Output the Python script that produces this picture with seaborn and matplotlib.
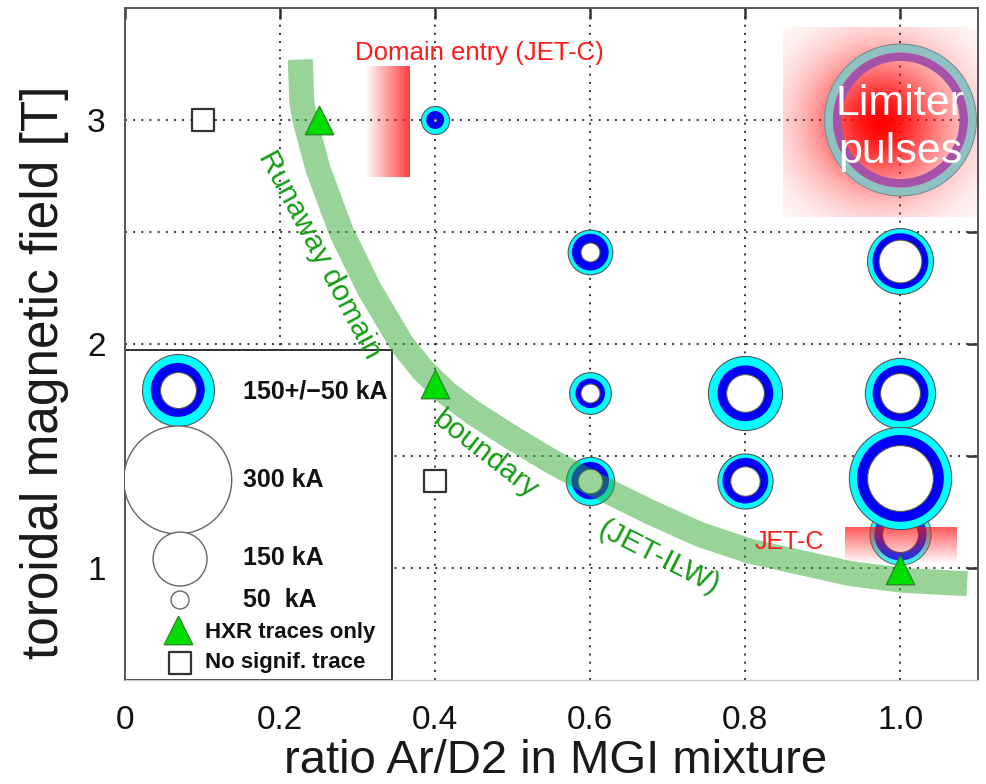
import numpy as np
import pandas as pd
import matplotlib
matplotlib.use("Agg")
import matplotlib.pyplot as plt
import seaborn as sns
from matplotlib.patches import Rectangle

# ---------------- data ----------------
# runaway rings: position, and current levels (kA) for inner / middle / outer radius
ring_x = [1.0, 0.4, 0.6, 1.0, 0.6, 0.8, 1.0, 0.6, 0.8, 1.0]
ring_y = [1.15, 3.0, 2.41, 2.37, 1.78, 1.78, 1.78, 1.39, 1.39, 1.40]
ring_low = [100, 8, 53, 119, 53, 105, 111, 68, 82, 183]
ring_mid = [145, 50, 102, 155, 82, 155, 155, 104, 127, 241]
ring_high = [170, 78, 124, 183, 116, 206, 195, 134, 153, 284]

# limiter pulses ring
limiter_x = [1.0]
limiter_y = [3.0]
limiter_low = [328]
limiter_mid = [375]
limiter_high = [422]

# HXR traces only (triangles) and no significant trace (squares)
hxr_x = [0.25, 0.4, 1.0]
hxr_y = [3.0, 1.82, 0.99]
none_x = [0.1, 0.4]
none_y = [3.0, 1.39]

# runaway domain boundary (JET-ILW) centre line
boundary_x = [0.226, 0.228, 0.232, 0.249, 0.279, 0.315, 0.357, 0.385, 0.415,
              0.45, 0.50, 0.548, 0.602, 0.677, 0.741, 0.806, 0.935, 1.003, 1.086]
boundary_y = [3.27, 3.08, 3.00, 2.78, 2.50, 2.245, 2.00, 1.88, 1.78,
              1.69, 1.58, 1.48, 1.378, 1.25, 1.15, 1.075, 0.975, 0.945, 0.93]

# legend reference values (kA)
legend_ring = [100, 150, 200]
legend_circles = [300, 150, 50]
legend_labels = ["150+/\u221250 kA", "300 kA", "150 kA", "50  kA",
                 "HXR traces only", "No signif. trace"]

x_ticks = [0, 0.2, 0.4, 0.6, 0.8, 1.0]
x_tick_labels = ["0", "0.2", "0.4", "0.6", "0.8", "1.0"]
y_ticks = [1.0, 1.5, 2.0, 2.5, 3.0]
y_tick_labels = ["1", "", "2", "", "3"]

# ---------------- style ----------------
sns.set_style("white")
plt.rcParams["font.family"] = ["Liberation Sans", "DejaVu Sans"]

DPI = 100
fig = plt.figure(figsize=(9.86, 7.84), dpi=DPI)
ax = fig.add_axes([125 / 986, 104 / 784, 853 / 986, 672 / 784])

PT_PER_KA = 0.2592  # marker diameter in points per kA


def s_of(vals):
    return (PT_PER_KA * np.asarray(vals, dtype=float)) ** 2


CYAN = "#00ffff"
BLUE = "#0000f5"
EDGE = "#555555"

# grid
ax.set_axisbelow(True)
ax.grid(True, linestyle=(0, (1, 3.2)), color="#333333", linewidth=1.4)

# ---------------- rings ----------------
for i in range(len(ring_x)):
    z = 3.0 + 0.01 * i + (0.1 if i > 0 else 0)
    a = 0.8 if i == 0 else 1.0
    d = pd.DataFrame({"x": [ring_x[i]], "y": [ring_y[i]]})
    sns.scatterplot(data=d, x="x", y="y", ax=ax, s=s_of([ring_high[i]]), alpha=a,
                    color=CYAN, edgecolor=EDGE, linewidth=0.8, zorder=z, legend=False)
    sns.scatterplot(data=d, x="x", y="y", ax=ax, s=s_of([ring_mid[i]]), alpha=a,
                    color=BLUE, edgecolor="none", linewidth=0, zorder=z + 0.001, legend=False)
    sns.scatterplot(data=d, x="x", y="y", ax=ax, s=s_of([ring_low[i]]),
                    color="white", edgecolor=EDGE, linewidth=0.8, zorder=z + 0.002, legend=False)

# JET-C red gradient (vertical, fading downward)
n = 100
img = np.zeros((n, 1, 4))
img[..., 0] = 1.0
img[..., 1] = 0.05
img[..., 2] = 0.05
img[:, 0, 3] = np.linspace(0.68, 0.0, n)
ax.imshow(img, extent=(0.929, 1.073, 1.02, 1.183), origin="upper",
          aspect="auto", zorder=3.05, interpolation="bilinear")

# Domain entry red gradient (horizontal)
img2 = np.zeros((1, n, 4))
img2[..., 0] = 1.0
img2[..., 1] = 0.05
img2[..., 2] = 0.05
img2[0, :, 3] = np.linspace(0.0, 0.8, n)
ax.imshow(img2, extent=(0.309, 0.366, 2.745, 3.24), origin="upper",
          aspect="auto", zorder=3.5, interpolation="bilinear")

# Limiter pulses: glow + ring
g = 200
u = np.linspace(-1, 1, g)
U, V = np.meshgrid(u, u)
R = np.sqrt(U ** 2 + V ** 2) * 97.0
glow = np.zeros((g, g, 4))
glow[..., 0] = 1.0
glow[..., 3] = np.exp(-(R / 70.0) ** 1.8)
ax.imshow(glow, extent=(0.848, 1.099, 2.567, 3.415), origin="upper",
          aspect="auto", zorder=3.5, interpolation="bilinear")

lim = pd.DataFrame({"x": limiter_x, "y": limiter_y})
teal_d = PT_PER_KA / 2 * (np.asarray(limiter_mid) + np.asarray(limiter_high))
teal_w = PT_PER_KA / 2 * (np.asarray(limiter_high) - np.asarray(limiter_mid))
purp_d = PT_PER_KA / 2 * (np.asarray(limiter_low) + np.asarray(limiter_mid))
purp_w = PT_PER_KA / 2 * (np.asarray(limiter_mid) - np.asarray(limiter_low))
sns.scatterplot(data=lim, x="x", y="y", ax=ax, s=teal_d ** 2, facecolors="none",
                edgecolor="#8ec2c2", linewidth=teal_w[0], zorder=3.6, legend=False)
sns.scatterplot(data=lim, x="x", y="y", ax=ax, s=purp_d ** 2, facecolors="none",
                edgecolor="#a552aa", linewidth=purp_w[0], zorder=3.61, legend=False)
sns.scatterplot(data=lim, x="x", y="y", ax=ax, s=s_of(limiter_high), facecolors="none",
                edgecolor="#7a8f8f", linewidth=0.8, zorder=3.62, legend=False)
ax.text(limiter_x[0], limiter_y[0] - 0.035, "Limiter\npulses", color="white", fontsize=31,
        ha="center", va="center", linespacing=1.25, zorder=7)

# ---------------- boundary band ----------------
bd = pd.DataFrame({"x": boundary_x, "y": boundary_y})
sns.lineplot(data=bd, x="x", y="y", ax=ax, sort=False, estimator=None,
             color="#32aa32", alpha=0.5, linewidth=18, zorder=4,
             solid_capstyle="butt", solid_joinstyle="round")

GREEN_TXT = "#169c16"
ax.text(0.251, 2.40, "Runaway domain", color=GREEN_TXT, fontsize=21.5, rotation=-62,
        rotation_mode="anchor", ha="center", va="center", zorder=7)
ax.text(0.464, 1.505, "boundary", color=GREEN_TXT, fontsize=21.5, rotation=-38,
        rotation_mode="anchor", ha="center", va="center", zorder=7)
ax.text(0.688, 1.045, "(JET-ILW)", color=GREEN_TXT, fontsize=21.5, rotation=-27,
        rotation_mode="anchor", ha="center", va="center", zorder=7)

# red labels
ax.text(0.457, 3.30, "Domain entry (JET-C)", color="#ff1a1a", fontsize=18.5,
        ha="center", va="center", zorder=7)
ax.text(0.857, 1.116, "JET-C", color="#ff1a1a", fontsize=18,
        ha="center", va="center", zorder=7)

# ---------------- triangles and squares ----------------
sns.scatterplot(x=hxr_x, y=hxr_y, ax=ax, marker="^", s=420, color="#00dd00",
                edgecolor="#2a8a2a", linewidth=1.0, zorder=5, legend=False)
sns.scatterplot(x=none_x, y=none_y, ax=ax, marker="s", s=230, color="white",
                edgecolor="#333333", linewidth=1.6, zorder=5, legend=False)

# ---------------- legend box ----------------
ax.add_patch(Rectangle((0.0, 0.5), 0.344, 1.475, facecolor="white",
                       edgecolor="#222222", linewidth=1.3, zorder=2.5))
lr = pd.DataFrame({"x": [0.068], "y": [1.795]})
sns.scatterplot(data=lr, x="x", y="y", ax=ax, s=s_of([legend_ring[2]]), color=CYAN,
                edgecolor=EDGE, linewidth=0.8, zorder=6, legend=False)
sns.scatterplot(data=lr, x="x", y="y", ax=ax, s=s_of([legend_ring[1]]), color=BLUE,
                edgecolor="none", linewidth=0, zorder=6.01, legend=False)
sns.scatterplot(data=lr, x="x", y="y", ax=ax, s=s_of([legend_ring[0]]), color="white",
                edgecolor=EDGE, linewidth=0.8, zorder=6.02, legend=False)
lc = pd.DataFrame({"x": [0.068, 0.071, 0.071], "y": [1.393, 1.04, 0.857]})
sns.scatterplot(data=lc, x="x", y="y", ax=ax, s=s_of(legend_circles), color="white",
                edgecolor="#666666", linewidth=1.0, zorder=6, legend=False)
sns.scatterplot(x=[0.068], y=[0.723], ax=ax, marker="^", s=420, color="#00dd00",
                edgecolor="#2a8a2a", linewidth=1.0, zorder=6, legend=False)
sns.scatterplot(x=[0.071], y=[0.576], ax=ax, marker="s", s=230, color="white",
                edgecolor="#333333", linewidth=1.6, zorder=6, legend=False)

leg_text_y = [1.786, 1.393, 1.045, 0.857, 0.714, 0.576]
leg_text_x = [0.152, 0.152, 0.152, 0.152, 0.103, 0.103]
leg_sizes = [18, 18, 18, 18, 16, 16]
for tx, ty, lab, fs in zip(leg_text_x, leg_text_y, legend_labels, leg_sizes):
    ax.text(tx, ty, lab, fontsize=fs, fontweight="bold", color="#111111",
            ha="left", va="center", zorder=7)

# ---------------- axes ----------------
ax.set_xlim(0, 1.1)
ax.set_ylim(0.5, 3.5)
ax.set_xticks(x_ticks)
ax.set_xticklabels(x_tick_labels)
ax.set_yticks(y_ticks)
ax.set_yticklabels(y_tick_labels)
ax.tick_params(axis="both", labelsize=24, colors="#333333", labelcolor="#111111",
               direction="in", length=8, width=1.8,
               top=True, right=True, bottom=False, left=False)
ax.tick_params(axis="x", pad=18)
ax.tick_params(axis="y", pad=14)

for side in ["left", "top", "right"]:
    ax.spines[side].set_visible(True)
    ax.spines[side].set_color("#555555")
    ax.spines[side].set_linewidth(1.4)
ax.spines["bottom"].set_visible(True)
ax.spines["bottom"].set_color("#cccccc")
ax.spines["bottom"].set_linewidth(1.0)

ax.set_xlabel("ratio Ar/D2 in MGI mixture", fontsize=34, color="#1a1a1a")
ax.set_ylabel("toroidal magnetic field [T]", fontsize=37, color="#1a1a1a")
ax.xaxis.set_label_coords(0.505, -0.121)
ax.xaxis.label.set_va("center")
ax.yaxis.set_label_coords(-0.094, 0.458)
ax.yaxis.label.set_va("center")

fig.savefig("out.png", dpi=DPI)
